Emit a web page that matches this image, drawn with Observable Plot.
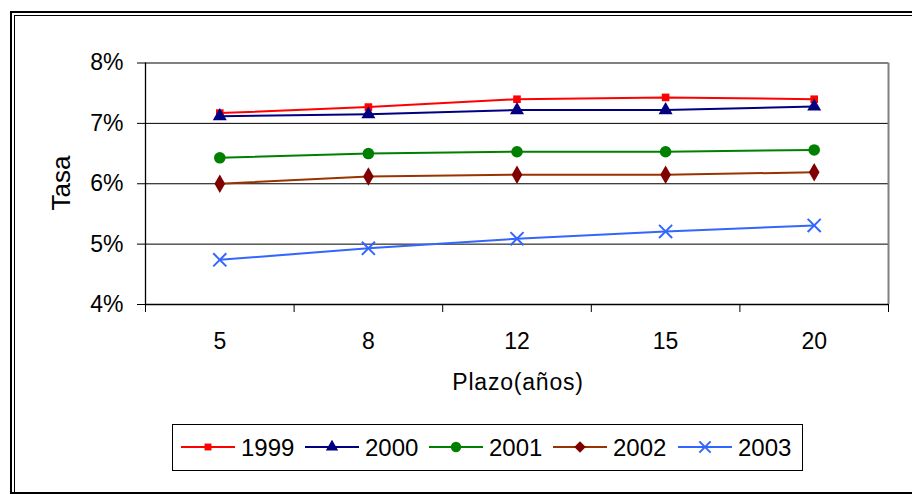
<!DOCTYPE html>
<html>
<head>
<meta charset="utf-8">
<script src="https://cdn.jsdelivr.net/npm/d3@7"></script>
<script src="https://cdn.jsdelivr.net/npm/@observablehq/plot@0.6"></script>
<style>
  html, body { margin: 0; padding: 0; background: #fff; }
  #wrap { position: relative; width: 912px; height: 494px; overflow: hidden; background: #fff; }
  .bl { position: absolute; background: #000; }
</style>
</head>
<body>
<div id="wrap"></div>
<script>
// ---- data ----
const plazos = ["5", "8", "12", "15", "20"];
const years = ["1999", "2000", "2001", "2002", "2003"];
const s1999 = [7.17, 7.27, 7.40, 7.43, 7.40];
const s2000 = [7.12, 7.15, 7.22, 7.22, 7.28];
const s2001 = [6.43, 6.50, 6.53, 6.53, 6.56];
const s2002 = [6.00, 6.12, 6.15, 6.15, 6.19];
const s2003 = [4.74, 4.93, 5.09, 5.21, 5.31];
const yTicks = [4, 5, 6, 7, 8];
const yTitle = "Tasa";
const xTitle = "Plazo(años)";

// ---- styles ----
const seriesVals = [s1999, s2000, s2001, s2002, s2003];
const lineColors = ["#FF0000", "#000080", "#008000", "#993300", "#3366FF"];
const markColors = ["#FF0000", "#000080", "#008000", "#800000", "#3366FF"];
const symbols = ["square", "triangle", "circle", "diamond", "times"];
const radii = [4.3, 5.2, 5.8, 5.6, 6.0];
const d3Symbols = [d3.symbolSquare, d3.symbolTriangle, d3.symbolCircle, d3.symbolDiamond2, d3.symbolTimes];

const rows = [];
years.forEach((yr, k) => seriesVals[k].forEach((v, i) => rows.push({year: yr, k, i, plazo: plazos[i], v})));

const boundaries = d3.range(plazos.length + 1).map(d => d - 0.5);

const marks = [
  Plot.ruleY([5, 6, 7], {stroke: "#000", strokeWidth: 1}),
  Plot.ruleY([8], {stroke: "#808080", strokeWidth: 2}),
  Plot.ruleX([plazos.length - 0.5], {stroke: "#808080", strokeWidth: 2}),
  Plot.ruleX([-0.5], {stroke: "#000", strokeWidth: 1.3}),
  Plot.ruleY([4], {stroke: "#000", strokeWidth: 1.3}),
  Plot.text(plazos, {x: (d, i) => i, y: yTicks[0], text: d => d, dy: 37, fontSize: 23, fill: "#000"})
];
years.forEach((yr, k) => {
  const data = rows.filter(r => r.k === k);
  marks.push(Plot.line(data, {x: "i", y: "v", stroke: lineColors[k], strokeWidth: 2}));
  if (symbols[k] === "times") {
    marks.push(Plot.dot(data, {x: "i", y: "v", symbol: "times", r: radii[k], stroke: markColors[k], strokeWidth: 2}));
  } else {
    marks.push(Plot.dot(data, {x: "i", y: "v", symbol: symbols[k], r: radii[k], fill: markColors[k], stroke: "none"}));
  }
});

const chart = Plot.plot({
  width: 912,
  height: 494,
  marginLeft: 145,
  marginRight: 24,
  marginTop: 62.5,
  marginBottom: 190,
  style: {fontFamily: "'Liberation Sans', Arial, sans-serif", fontSize: "23px", color: "#000", background: "transparent"},
  x: {type: "linear", domain: [-0.5, plazos.length - 0.5], ticks: boundaries, tickFormat: () => "", tickSize: 8, label: null},
  y: {domain: [yTicks[0], yTicks[yTicks.length - 1]], ticks: yTicks, tickFormat: d => d + "%", tickSize: 8, tickPadding: 14, label: null},
  marks
});

const wrap = document.getElementById("wrap");
wrap.appendChild(chart);
chart.style.position = "absolute";
chart.style.left = "0px";
chart.style.top = "0px";

const svg = d3.select(chart);
// axis titles
svg.append("text")
  .attr("transform", "translate(70,183) rotate(-90)")
  .attr("text-anchor", "middle")
  .style("font-size", "26px")
  .attr("fill", "#000")
  .text(yTitle);
svg.append("text")
  .attr("x", 518).attr("y", 390)
  .attr("text-anchor", "middle")
  .style("font-size", "23px")
  .style("letter-spacing", "0.8px")
  .attr("fill", "#000")
  .text(xTitle);

// legend
const lg = svg.append("g");
lg.append("rect").attr("x", 172.5).attr("y", 424.5).attr("width", 630).attr("height", 46)
  .attr("fill", "#fff").attr("stroke", "#000").attr("stroke-width", 1);
const lineStarts = [181, 305, 429, 553, 678];
const legR = [3.9, 4.6, 5.2, 5.2, 5.2];
years.forEach((yr, k) => {
  const x0 = lineStarts[k], yc = 447;
  lg.append("line").attr("x1", x0).attr("x2", x0 + 54).attr("y1", yc).attr("y2", yc)
    .attr("stroke", lineColors[k]).attr("stroke-width", 2);
  const size = Math.PI * legR[k] * legR[k];
  const p = lg.append("path").attr("transform", `translate(${x0 + 27},${yc})`)
    .attr("d", d3.symbol(d3Symbols[k], size)());
  if (symbols[k] === "times") p.attr("fill", "none").attr("stroke", markColors[k]).attr("stroke-width", 2);
  else p.attr("fill", markColors[k]);
  lg.append("text").attr("x", x0 + 60).attr("y", yc + 8.5)
    .attr("text-anchor", "start")
    .style("font-size", "24px")
    .attr("fill", "#000")
    .text(yr);
});

// outer double frame
const frame = [
  {l: 10, t: 11, w: 902, h: 2},
  {l: 10, t: 11, w: 2, h: 483},
  {l: 13.5, t: 14.5, w: 899, h: 1.6},
  {l: 13.5, t: 14.5, w: 1.6, h: 480},
  {l: 10, t: 492, w: 902, h: 2}
];
frame.forEach(f => {
  const d = document.createElement("div");
  d.className = "bl";
  d.style.left = f.l + "px"; d.style.top = f.t + "px";
  d.style.width = f.w + "px"; d.style.height = f.h + "px";
  wrap.appendChild(d);
});
</script>
</body>
</html>
